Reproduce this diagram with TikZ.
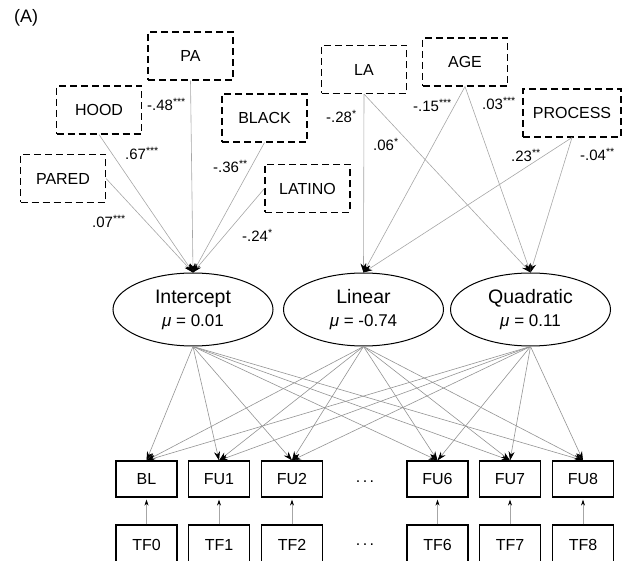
\documentclass[tikz,border=0pt]{standalone}
\usepackage{fontspec}
\setmainfont{Liberation Sans}
\usetikzlibrary{shapes.geometric,arrows.meta}

\begin{document}
\begin{tikzpicture}[x=1pt, y=-1pt,
	covbox/.style={draw, dash pattern=on 7pt off 4pt, line width=1.1pt, minimum width=85pt, minimum height=48pt, inner sep=2pt, font=\fontsize{16}{19}\selectfont},
	growth/.style={draw, ellipse, line width=1pt, minimum width=160pt, minimum height=73pt, inner sep=0pt, align=center, font=\fontsize{19.5}{23}\selectfont},
	wave/.style={draw, line width=1.1pt, minimum width=61pt, minimum height=36pt, inner sep=0pt, font=\fontsize{16}{19}\selectfont},
	link/.style={draw=gray!70, line width=0.6pt, -{Stealth[black, length=9pt, width=6pt, inset=3pt]}},
	coef/.style={anchor=base west, inner sep=0pt, font=\fontsize{15}{18}\selectfont}]
	\useasboundingbox (0,0) rectangle (624,561);

	\node[anchor=base west, inner sep=0pt, font=\fontsize{18}{21}\selectfont] (panel) at (14,23) {(A)};

	% covariates
	\node[covbox] (pa) at (190.5,56) {PA};
	\node[covbox] (hood) at (99,110) {HOOD};
	\node[covbox] (black) at (264.5,118) {BLACK};
	\node[covbox] (pared) at (63,178.5) {PARED};
	\node[covbox] (latino) at (307.5,188.5) {LATINO};
	\node[covbox] (la) at (364,69.5) {LA};
	\node[covbox] (age) at (465,62) {AGE};
	\node[covbox, minimum width=98pt] (process) at (572,113) {PROCESS};

	% growth factors
	\node[growth] (icpt) at (193,309.5) {Intercept\\{\fontsize{17}{20}\selectfont\textit{μ} = 0.01}};
	\node[growth] (lin) at (363.5,309.5) {Linear\\{\fontsize{17}{20}\selectfont\textit{μ} = -0.74}};
	\node[growth] (quad) at (530.5,309.5) {Quadratic\\{\fontsize{17}{20}\selectfont\textit{μ} = 0.11}};

	\draw[link] (pared.east) -- (icpt.north);
	\draw[link] (hood.south) -- (icpt.north);
	\draw[link] (pa.south) -- (icpt.north);
	\draw[link] (black.south) -- (icpt.north);
	\draw[link] (latino.west) -- (icpt.north);
	\foreach \c in {la, age, process} {
		\draw[link] (\c.south) -- (lin.north);
		\draw[link] (\c.south) -- (quad.north);
	}

	\node[coef] (c-pared) at (92,228) {.07\textsuperscript{***}};
	\node[coef] (c-hood) at (125,160) {.67\textsuperscript{***}};
	\node[coef] (c-pa) at (147,111) {-.48\textsuperscript{***}};
	\node[coef] (c-black) at (213,173) {-.36\textsuperscript{**}};
	\node[coef] (c-latino) at (242,242) {-.24\textsuperscript{*}};
	\node[coef] (c-la-lin) at (326,123) {-.28\textsuperscript{*}};
	\node[coef] (c-la-quad) at (373,151) {.06\textsuperscript{*}};
	\node[coef] (c-age-lin) at (413,111.5) {-.15\textsuperscript{***}};
	\node[coef] (c-age-quad) at (482,110) {.03\textsuperscript{***}};
	\node[coef] (c-proc-lin) at (511,162) {.23\textsuperscript{**}};
	\node[coef] (c-proc-quad) at (580,160.5) {-.04\textsuperscript{**}};

	% waves and time-varying covariates
	\foreach \x/\fu/\tf [count=\i] in {146.5/BL/TF0, 219/FU1/TF1, 292/FU2/TF2, 437.5/FU6/TF6, 510/FU7/TF7, 583/FU8/TF8} {
		\node[wave] (fu\i) at (\x,479) {\fu};
		\node[wave, minimum height=40pt] (tf\i) at (\x,545) {\tf};
		\draw[link, -{Stealth[black, length=6pt, width=4pt, inset=2pt]}, shorten >=2pt] (tf\i.north) -- (fu\i.south);
	}
	\node[font=\fontsize{16}{19}\selectfont, inner sep=0pt] (dots-fu) at (365,482) {.\hspace{2.5pt}.\hspace{2.5pt}.};
	\node[font=\fontsize{16}{19}\selectfont, inner sep=0pt] (dots-tf) at (365,545) {.\hspace{2.5pt}.\hspace{2.5pt}.};

	\foreach \g in {icpt, lin, quad}
		\foreach \i in {1,...,6}
			\draw[link, draw=gray!85] (\g.south) -- (fu\i.north);
\end{tikzpicture}
\end{document}
